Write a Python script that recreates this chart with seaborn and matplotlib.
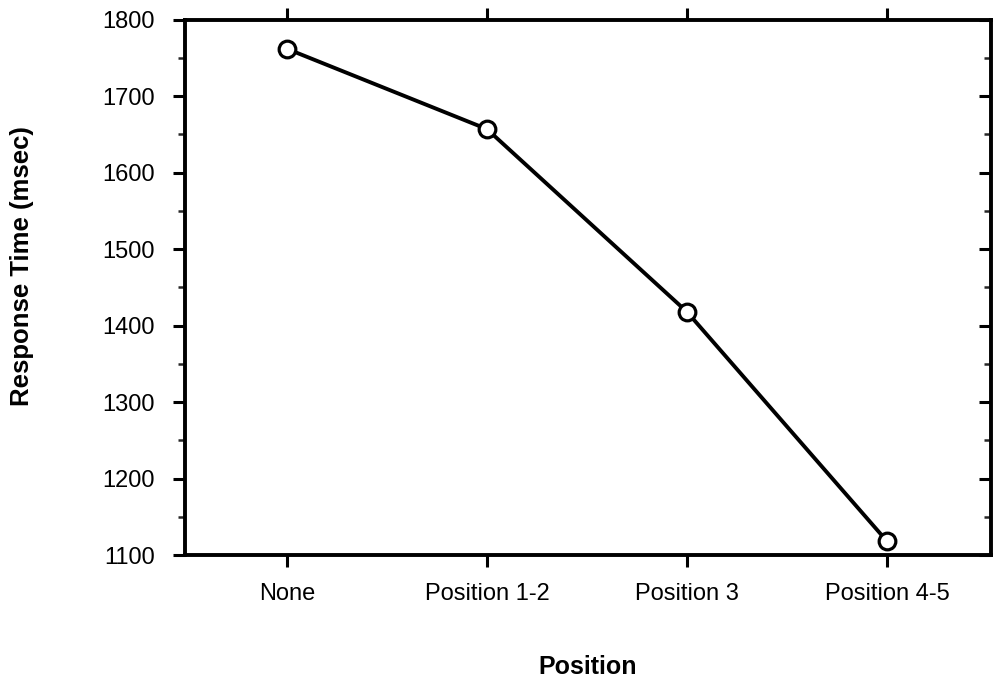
import matplotlib
matplotlib.use("Agg")
import matplotlib.pyplot as plt
from matplotlib.ticker import MultipleLocator
import seaborn as sns
import pandas as pd

positions = ["None", "Position 1-2", "Position 3", "Position 4-5"]
response_ms = [1762, 1657, 1418, 1118]

sns.set_theme(style="white")
plt.rcParams["font.family"] = ["Liberation Sans", "DejaVu Sans"]

df = pd.DataFrame({"Position": positions, "RT": response_ms})

fig = plt.figure(figsize=(9.94, 6.81), dpi=100)
ax = fig.add_axes([0.186, 0.185, 0.811, 0.786])

sns.lineplot(data=df, x="Position", y="RT", ax=ax, sort=False,
             color="black", linewidth=2.8, marker="o", markersize=12,
             markerfacecolor="white", markeredgecolor="black",
             markeredgewidth=2.3)

ax.set_xlim(-0.51, 3.52)
ax.set_ylim(1100, 1800)
ax.yaxis.set_major_locator(MultipleLocator(100))
ax.yaxis.set_minor_locator(MultipleLocator(50))

for s in ax.spines.values():
    s.set_color("black")
    s.set_linewidth(2.8)

ax.tick_params(axis="x", which="major", direction="out", length=8.5, width=2.2,
               top=True, bottom=True, labelsize=17, colors="black", pad=12)
ax.tick_params(axis="y", which="major", direction="out", length=8.5, width=2.2,
               left=True, labelsize=17, colors="black", pad=13)
ax.tick_params(axis="y", which="minor", direction="out", length=5, width=1.8,
               left=True)
ax.tick_params(axis="y", which="both", right=True)
for t in ax.yaxis.get_major_ticks() + ax.yaxis.get_minor_ticks():
    t.tick2line.set_marker(0)  # right-side ticks point inward

ax.set_xlabel("Position", fontsize=18, fontweight="bold", color="black",
              labelpad=36)
ax.set_ylabel("Response Time (msec)", fontsize=18.5, fontweight="bold",
              color="black")
ax.yaxis.set_label_coords(-0.187, 0.54)

fig.savefig("out.png", dpi=100, facecolor="white")
